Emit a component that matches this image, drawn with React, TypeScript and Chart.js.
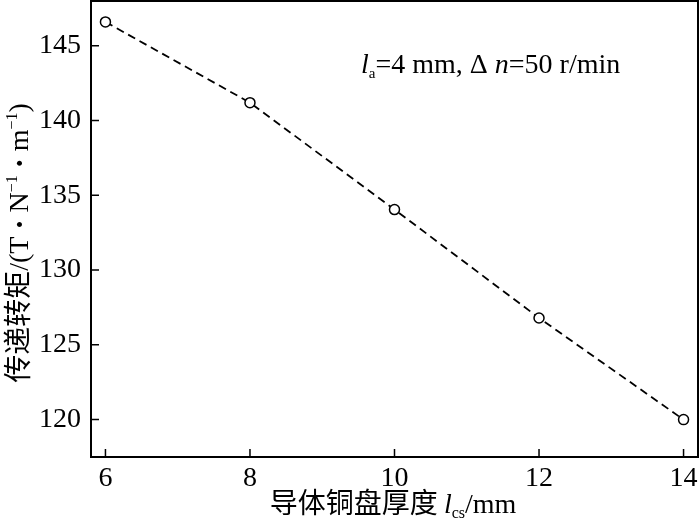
import React, { useEffect, useRef } from "react";
import { Chart, registerables } from "chart.js";

Chart.register(...registerables);

const thickness = [6, 8, 10, 12, 14];
const torque = [146.6, 141.2, 134.05, 126.8, 120.0];
const xTicks = [6, 8, 10, 12, 14];
const yTicks = [120, 125, 130, 135, 140, 145];

const SERIF = "'Liberation Serif', 'DejaVu Serif', serif";
const CJK = "'Noto Sans CJK SC', sans-serif";

type Seg = { t: string; font: string; dy?: number };

function drawRich(ctx: CanvasRenderingContext2D, segs: Seg[], x: number, y: number, align: "left" | "center") {
  let total = 0;
  for (const s of segs) {
    ctx.font = s.font;
    total += ctx.measureText(s.t).width;
  }
  let cx = align === "center" ? x - total / 2 : x;
  ctx.textBaseline = "alphabetic";
  ctx.textAlign = "left";
  for (const s of segs) {
    ctx.font = s.font;
    ctx.fillText(s.t, cx, y + (s.dy || 0));
    cx += ctx.measureText(s.t).width;
  }
}

const decorPlugin = {
  id: "decor",
  afterDraw(chart: any) {
    const ctx: CanvasRenderingContext2D = chart.ctx;
    const { left, right, top, bottom } = chart.chartArea;
    const xs = chart.scales.x;
    const ys = chart.scales.y;
    ctx.save();
    ctx.strokeStyle = "#000";
    ctx.fillStyle = "#000";
    ctx.lineWidth = 2;
    ctx.strokeRect(left, top, right - left, bottom - top);
    ctx.lineWidth = 1.5;
    ctx.beginPath();
    for (const v of xTicks) {
      const px = xs.getPixelForValue(v);
      ctx.moveTo(px, bottom);
      ctx.lineTo(px, bottom - 8);
    }
    for (const v of yTicks) {
      const py = ys.getPixelForValue(v);
      ctx.moveTo(left, py);
      ctx.lineTo(left + 8, py);
    }
    ctx.stroke();

    // x title
    drawRich(
      ctx,
      [
        { t: "导体铜盘厚度 ", font: `28px ${CJK}` },
        { t: "l", font: `italic 28px ${SERIF}` },
        { t: "cs", font: `16px ${SERIF}`, dy: 5 },
        { t: "/mm", font: `28px ${SERIF}` },
      ],
      393,
      513,
      "center"
    );

    // y title
    ctx.save();
    ctx.translate(28, 243);
    ctx.rotate(-Math.PI / 2);
    drawRich(
      ctx,
      [
        { t: "传递转矩", font: `28px ${CJK}` },
        { t: "/(T", font: `28px ${SERIF}` },
        { t: "・", font: `24px ${CJK}` },
        { t: "N", font: `28px ${SERIF}` },
        { t: "−1", font: `16px ${SERIF}`, dy: -11 },
        { t: "・", font: `24px ${CJK}` },
        { t: "m", font: `28px ${SERIF}` },
        { t: "−1", font: `16px ${SERIF}`, dy: -11 },
        { t: ")", font: `28px ${SERIF}` },
      ],
      0,
      0,
      "center"
    );
    ctx.restore();

    // annotation
    drawRich(
      ctx,
      [
        { t: "l", font: `italic 28px ${SERIF}` },
        { t: "a", font: `15px ${SERIF}`, dy: 5 },
        { t: "=4 mm, Δ ", font: `28px ${SERIF}` },
        { t: "n", font: `italic 28px ${SERIF}` },
        { t: "=50 r/min", font: `28px ${SERIF}` },
      ],
      361,
      73,
      "left"
    );
    ctx.restore();
  },
};

export default function App() {
  const ref = useRef<HTMLCanvasElement>(null);
  useEffect(() => {
    if (!ref.current) return;
    const chart = new Chart(ref.current, {
      type: "line",
      data: {
        datasets: [
          {
            data: thickness.map((x, i) => ({ x, y: torque[i] })),
            borderColor: "#000",
            borderWidth: 1.8,
            borderDash: [8, 5],
            pointStyle: "circle",
            pointRadius: 5,
            pointBorderWidth: 1.5,
            pointBorderColor: "#000",
            pointBackgroundColor: "#fff",
            fill: false,
            tension: 0,
          },
        ],
      },
      options: {
        responsive: false,
        animation: false,
        layout: { autoPadding: false, padding: { left: 0, top: 1, right: 2, bottom: 0 } },
        plugins: { legend: { display: false }, tooltip: { enabled: false }, title: { display: false } },
        scales: {
          x: {
            type: "linear",
            min: 5.8,
            max: 14.2,
            afterBuildTicks: (s: any) => {
              s.ticks = xTicks.map((v) => ({ value: v }));
            },
            afterFit: (s: any) => {
              s.height = 68;
              s.paddingLeft = 0;
              s.paddingRight = 0;
            },
            grid: { display: false, drawTicks: false },
            border: { display: false },
            ticks: { color: "#000", font: { family: SERIF, size: 28 }, padding: 5, maxRotation: 0 },
          },
          y: {
            type: "linear",
            min: 117.5,
            max: 148,
            afterBuildTicks: (s: any) => {
              s.ticks = yTicks.map((v) => ({ value: v }));
            },
            afterFit: (s: any) => {
              s.width = 91;
              s.paddingTop = 0;
              s.paddingBottom = 0;
            },
            grid: { display: false, drawTicks: false },
            border: { display: false },
            ticks: { color: "#000", font: { family: SERIF, size: 28 }, padding: 10 },
          },
        },
      },
      plugins: [decorPlugin],
    } as any);
    return () => chart.destroy();
  }, []);
  return (
    <div style={{ position: "fixed", left: 0, top: 0, width: 700, height: 525, background: "#fff" }}>
      <canvas ref={ref} width={700} height={525} />
    </div>
  );
}
